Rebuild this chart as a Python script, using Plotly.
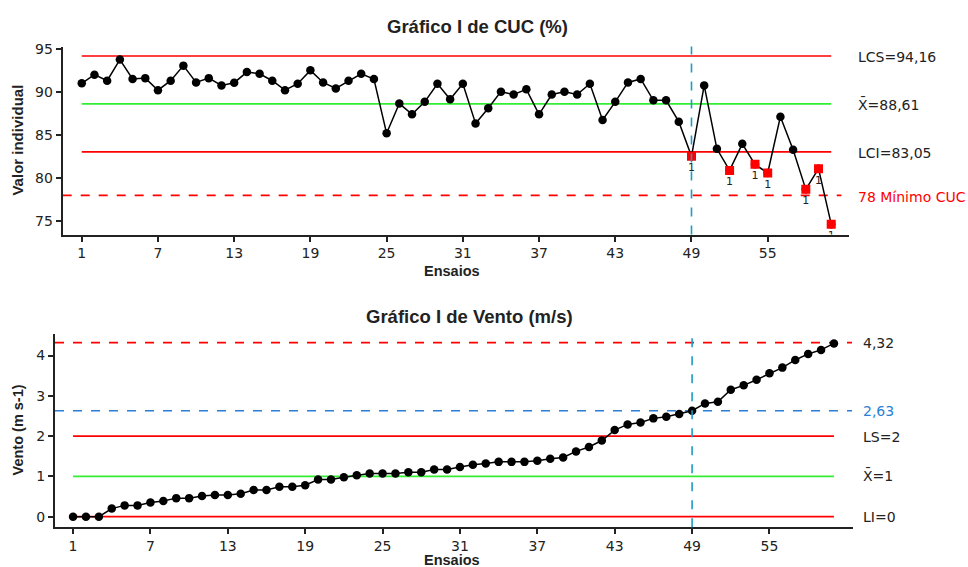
import plotly.graph_objects as go

# ---------------- data ----------------
ensaios = list(range(1, 61))
cuc = [91.0, 92.0, 91.3, 93.75, 91.5, 91.6, 90.2, 91.3, 93.05, 91.1,
       91.6, 90.75, 91.07, 92.3, 92.1, 91.3, 90.2, 90.95, 92.5, 91.1,
       90.4, 91.3, 92.1, 91.5, 85.2, 88.65, 87.4, 88.85, 90.95, 89.15,
       90.95, 86.35, 88.1, 90.03, 89.7, 90.3, 87.4, 89.7, 90.03, 89.7,
       90.95, 86.75, 88.85, 91.1, 91.5, 89.03, 89.03, 86.55, 82.53, 90.76,
       83.4, 80.9, 83.98, 81.6, 80.6, 87.13, 83.29, 78.7, 81.1, 74.67]
vento = [0.0, 0.0, 0.0, 0.2, 0.28, 0.28, 0.35, 0.39, 0.46, 0.46,
         0.51, 0.54, 0.54, 0.57, 0.66, 0.66, 0.74, 0.74, 0.78, 0.92,
         0.92, 0.98, 1.03, 1.07, 1.07, 1.07, 1.1, 1.1, 1.17, 1.17,
         1.23, 1.29, 1.32, 1.36, 1.36, 1.36, 1.39, 1.44, 1.47, 1.62,
         1.73, 1.89, 2.15, 2.29, 2.34, 2.44, 2.48, 2.55, 2.63, 2.81,
         2.85, 3.15, 3.26, 3.40, 3.56, 3.70, 3.89, 4.04, 4.14, 4.30]
x_ticks = [1, 7, 13, 19, 25, 31, 37, 43, 49, 55]

cuc_lcs, cuc_mean, cuc_lci, cuc_min = 94.16, 88.61, 83.05, 78
vento_max, vento_cut, vento_ls, vento_mean, vento_li = 4.32, 2.63, 2, 1, 0
corte = 49

# ---------------- styles ----------------
RED = "#FF0000"
GREEN = "#33EE33"
BLUE = "#2A7FD4"
TEAL = "#1C9CC6"
FONT = "DejaVu Sans"
BOLD_FONT = "Liberation Sans"

fig = go.Figure()

x0, x1 = ensaios[0], ensaios[-1]

def hline(xa, ya, y, color, dash="solid", xs=None, xe=None):
    fig.add_trace(go.Scatter(x=[xs if xs is not None else x0, xe if xe is not None else x1],
                             y=[y, y], mode="lines", xaxis=xa, yaxis=ya,
                             line=dict(color=color, width=1.6, dash=dash),
                             hoverinfo="skip", showlegend=False))

# top chart lines
hline("x", "y", cuc_lcs, RED)
hline("x", "y", cuc_mean, GREEN)
hline("x", "y", cuc_lci, RED)
hline("x", "y", cuc_min, RED, "dash", xs=-0.5, xe=60.8)

# bottom chart lines
hline("x2", "y2", vento_max, RED, "dash", xs=-0.4, xe=61.4)
hline("x2", "y2", vento_cut, BLUE, "dash", xs=-0.4, xe=61.4)
hline("x2", "y2", vento_ls, RED)
hline("x2", "y2", vento_mean, GREEN)
hline("x2", "y2", vento_li, RED)

# vertical dashed lines
fig.add_shape(type="line", x0=corte, x1=corte, y0=0, y1=1, xref="x", yref="y domain",
              line=dict(color=TEAL, width=1.6, dash="dash"))
fig.add_shape(type="line", x0=corte, x1=corte, y0=0, y1=1, xref="x2", yref="y2 domain",
              line=dict(color=TEAL, width=1.6, dash="dash"))

# top data
fig.add_trace(go.Scatter(x=ensaios, y=cuc, mode="lines+markers", xaxis="x", yaxis="y",
                         line=dict(color="black", width=1.5),
                         marker=dict(color="black", size=8.5, symbol="circle"),
                         showlegend=False))
out_x = [e for e, v in zip(ensaios, cuc) if v < cuc_lci]
out_y = [v for v in cuc if v < cuc_lci]
fig.add_trace(go.Scatter(x=out_x, y=out_y, mode="markers+text", xaxis="x", yaxis="y",
                         text=["1"] * len(out_x), textposition="bottom center",
                         textfont=dict(family=FONT, size=11, color="#222"),
                         marker=dict(color=RED, size=9, symbol="square"),
                         showlegend=False))

# bottom data
fig.add_trace(go.Scatter(x=ensaios, y=vento, mode="lines+markers", xaxis="x2", yaxis="y2",
                         line=dict(color="black", width=1.5),
                         marker=dict(color="black", size=8.5, symbol="circle"),
                         showlegend=False))

W, H = 968, 567
def px(x):
    return x / W
def py(y):
    return 1 - y / H

axis_common = dict(showgrid=False, zeroline=False, showline=True, linecolor="#222",
                   linewidth=2, ticks="outside", ticklen=5, tickwidth=1.5, tickcolor="#222",
                   tickfont=dict(family=FONT, size=14, color="#222"))

fig.update_layout(
    width=W, height=H, margin=dict(l=0, r=0, t=0, b=0),
    paper_bgcolor="white", plot_bgcolor="white",
    xaxis=dict(domain=[px(62.7), px(849)], range=[-0.5, 61.4], anchor="y",
               tickvals=x_ticks, **axis_common),
    yaxis=dict(domain=[py(231), py(41)], range=[73.46, 95.26], anchor="x",
               tickvals=[75, 80, 85, 90, 95], **axis_common),
    xaxis2=dict(domain=[px(55), px(853.3)], range=[-0.4, 61.5], anchor="y2",
                tickvals=x_ticks, **axis_common),
    yaxis2=dict(domain=[py(526.7), py(331.7)], range=[-0.26, 4.53], anchor="x2",
                tickvals=[0, 1, 2, 3, 4], **axis_common),
)

def ann(text, x, y, size=14, color="#222", bold=False, angle=0, xanchor="center", family=FONT):
    fig.add_annotation(text=f"<b>{text}</b>" if bold else text, x=px(x), y=py(y),
                       xref="paper", yref="paper", showarrow=False, textangle=angle,
                       xanchor=xanchor, yanchor="middle",
                       font=dict(family=family, size=size, color=color))

# titles
ann("Gráfico I de CUC (%)", 477, 21, size=18.5, bold=True, family=BOLD_FONT)
ann("Gráfico I de Vento (m/s)", 469, 314, size=18.5, bold=True, family=BOLD_FONT)
ann("Ensaios", 452, 268, size=14.5, bold=True, family=BOLD_FONT)
ann("Ensaios", 452, 560, size=14.5, bold=True, family=BOLD_FONT)
ann("Valor individual", 18, 136, size=15, bold=True, angle=-90, family=BOLD_FONT)
ann("Vento (m s-1)", 18, 429, size=14.5, bold=True, angle=-90, family=BOLD_FONT)

# right labels top
ann(f"LCS={str(cuc_lcs).replace('.', ',')}", 856, 52, xanchor="left")
ann(f"X\u0304={str(cuc_mean).replace('.', ',')}", 856, 100, xanchor="left")
ann(f"LCI={str(cuc_lci).replace('.', ',')}", 856, 149, xanchor="left")
ann(f"{cuc_min} Mínimo CUC", 856, 193, color=RED, xanchor="left")

# right labels bottom
ann(str(vento_max).replace('.', ','), 861, 341, xanchor="left")
ann(str(vento_cut).replace('.', ','), 861, 409, color=BLUE, xanchor="left")
ann(f"LS={vento_ls}", 861, 436, xanchor="left")
ann(f"X\u0304={vento_mean}", 861, 475, xanchor="left")
ann(f"LI={vento_li}", 861, 516, xanchor="left")

fig.write_html("out.html", config={"displayModeBar": False},
               post_script="document.body.style.margin='0';document.body.style.overflow='hidden';")
